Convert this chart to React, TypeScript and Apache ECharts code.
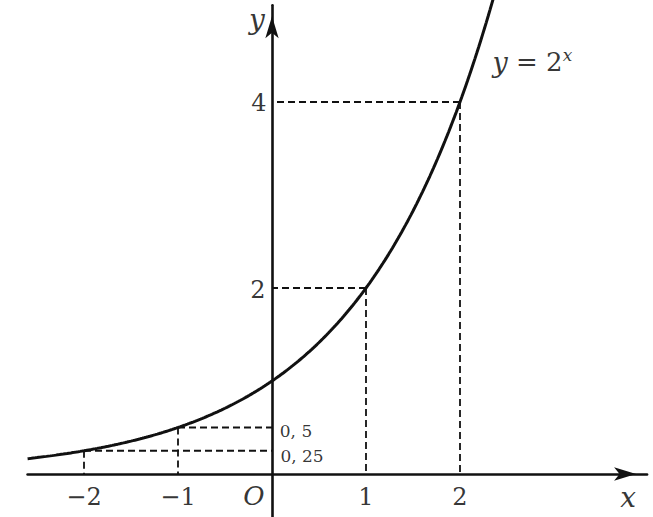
import React, { useEffect, useRef } from "react";
import * as echarts from "echarts";

// Axis ranges (units)
const xRange = [-2.6, 3.99];
const yRange = [-0.46, 5.04];

// Curve y = 2^x sampled on x
const curveX: number[] = [];
for (let i = 0; i <= 248; i++) curveX.push(-2.6 + i * 0.02);

// Marked points on the curve (x, 2^x)
const markX = [-2, -1, 1, 2];
const markY = [0.25, 0.5, 2, 4];

// Tick labels
const xTickValues = [-2, -1, 1, 2];
const xTickText = ["−2", "−1", "1", "2"];
const yTickValues = [4, 2];
const yTickText = ["4", "2"];
const smallTickValues = [0.5, 0.25];
const smallTickText = ["0, 5", "0, 25"];

// Formula label anchor
const formulaAnchor = [2.77, 4.43];

const INK = "#000";
const FONT = "DejaVu Serif";

export default function App() {
  const ref = useRef<HTMLDivElement>(null);
  useEffect(() => {
    document.body.style.margin = "0";
    const chart = echarts.init(ref.current!, null, { renderer: "svg" });

    const curve = curveX.map((x) => [x, Math.pow(2, x)]);

    const guides: any[] = [];
    markX.forEach((x, i) => {
      const y = markY[i];
      guides.push({
        type: "line",
        data: [[x, y], [0, y]],
        symbol: "none",
        lineStyle: { color: "#111", width: 1.8, type: [7, 4] },
        silent: true,
      });
      guides.push({
        type: "line",
        data: [[x, y], [x, 0]],
        symbol: "none",
        lineStyle: { color: "#111", width: 1.8, type: [7, 4] },
        silent: true,
      });
    });

    const labelPt = (
      value: number[],
      text: string,
      offset: number[],
      extra: any = {}
    ) => ({
      value,
      label: {
        show: true,
        position: "inside",
        formatter: text,
        offset,
        color: INK,
        fontFamily: FONT,
        fontSize: 24,
        ...extra,
      },
    });

    const labels: any[] = [];
    xTickValues.forEach((v, i) =>
      labels.push(labelPt([v, 0], xTickText[i], [0, 23]))
    );
    const yOff = [
      [-13, 1],
      [-14, 2],
    ];
    yTickValues.forEach((v, i) =>
      labels.push(labelPt([0, v], yTickText[i], yOff[i]))
    );
    const sOff = [
      [24, 3],
      [30, 5],
    ];
    smallTickValues.forEach((v, i) =>
      labels.push(labelPt([0, v], smallTickText[i], sOff[i], { fontSize: 17 }))
    );
    labels.push(labelPt([0, 0], "O", [-18, 22], { fontStyle: "italic", fontSize: 26 }));
    labels.push(labelPt([xRange[1], 0], "x", [-19, 23], { fontStyle: "italic", fontSize: 28 }));
    labels.push(labelPt([0, yRange[1]], "y", [-15, 14], { fontStyle: "italic", fontSize: 28 }));
    labels.push(
      labelPt(formulaAnchor, "{i|y} = 2{s|x}", [0, 0], {
        fontSize: 26,
        rich: {
          i: { fontStyle: "italic", fontSize: 27, fontFamily: FONT, color: INK },
          s: {
            fontStyle: "italic",
            fontSize: 17,
            fontFamily: FONT,
            color: INK,
            verticalAlign: "bottom",
            padding: [0, 0, 14, 0],
          },
        },
      })
    );

    const axisCommon = {
      type: "value",
      axisTick: { show: false },
      axisLabel: { show: false },
      splitLine: { show: false },
      axisLine: {
        onZero: true,
        symbol: ["none", "arrow"],
        symbolSize: [10, 22],
        symbolOffset: [0, -11],
        lineStyle: { color: "#111", width: 2.6 },
      },
    };

    chart.setOption({
      animation: false,
      textStyle: { fontFamily: FONT },
      grid: { left: 27.6, right: 5.94, top: 5.28, bottom: 0.22 },
      xAxis: { ...axisCommon, min: xRange[0], max: xRange[1] },
      yAxis: { ...axisCommon, min: yRange[0], max: yRange[1] },
      series: [
        ...guides,
        {
          type: "line",
          data: curve,
          symbol: "none",
          smooth: false,
          clip: false,
          lineStyle: { color: "#111", width: 3 },
          silent: true,
          z: 5,
        },
        {
          type: "scatter",
          data: labels,
          symbolSize: 0,
          silent: true,
          z: 6,
        },
      ],
    });
    return () => chart.dispose();
  }, []);
  return (
    <div
      ref={ref}
      style={{ position: "fixed", left: 0, top: 0, width: 653, height: 517, background: "#fff" }}
    />
  );
}
